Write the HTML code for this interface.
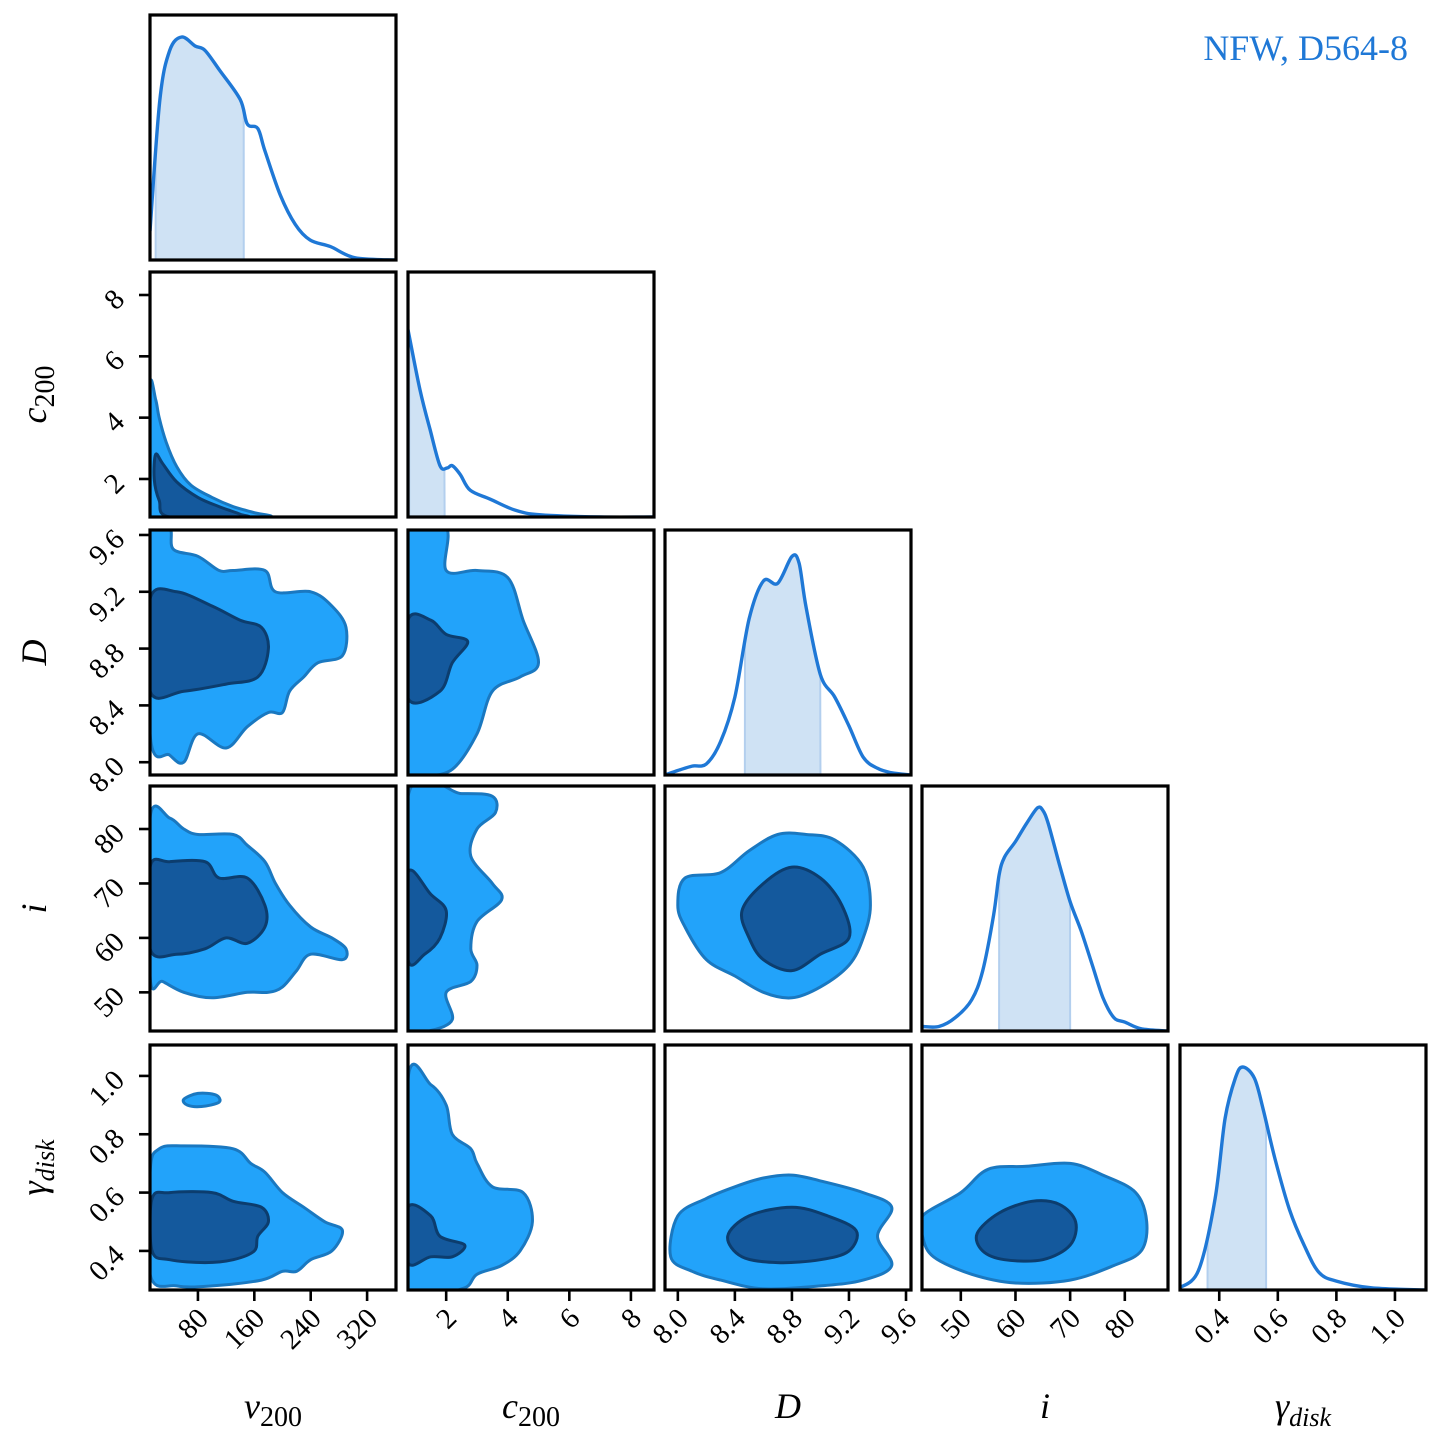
<!DOCTYPE html>
<html><head><meta charset="utf-8"><style>
html,body{margin:0;padding:0;background:#fff}
svg{display:block}
text{font-family:"Liberation Serif",serif;fill:#000}
</style></head><body>
<svg id="chart" width="1440" height="1446" viewBox="0 0 1440 1446" xmlns="http://www.w3.org/2000/svg">
<text x="1408" y="60" text-anchor="end" font-size="36" style="fill:#1f78d6">NFW, D564-8</text>
</svg>
<script>
// ---- data ----
const varNames = ['v200','c200','D','i','gdisk'];
const ranges = [[12,361],[0.76,8.75],[7.91,9.635],[42.9,87.9],[0.266,1.106]];
const tickVals = [[80,160,240,320],[2,4,6,8],[8.0,8.4,8.8,9.2,9.6],[50,60,70,80],[0.4,0.6,0.8,1.0]];
const tickLabels = [['80','160','240','320'],['2','4','6','8'],['8.0','8.4','8.8','9.2','9.6'],['50','60','70','80'],['0.4','0.6','0.8','1.0']];
// 1D KDE: grid values and relative densities
const kdeX0 = [12,26,40,57,76,90,111,140,150,165,175,197,218,239,268,303,361];
const kdeY0 = [0.13,0.72,0.94,1.0,0.96,0.94,0.85,0.72,0.61,0.59,0.49,0.29,0.16,0.09,0.06,0.01,0];
const kdeX1 = [0.76,1.15,1.48,1.8,2.03,2.2,2.46,2.78,3.43,4.25,5.07,7.0,8.75];
const kdeY1 = [0.84,0.57,0.39,0.23,0.22,0.23,0.19,0.12,0.08,0.03,0.01,0.0,0];
const kdeX2 = [7.91,8.0,8.1,8.2,8.3,8.4,8.5,8.6,8.7,8.8,8.85,8.9,9.0,9.1,9.2,9.3,9.4,9.5,9.635];
const kdeY2 = [0.0,0.02,0.04,0.05,0.15,0.35,0.7,0.87,0.86,0.98,0.95,0.75,0.45,0.35,0.22,0.08,0.03,0.01,0];
const kdeX3 = [42.9,46,49,52,54,56,57,58,60,62,64,65,66,68,70,72,74,76,78,80,83,87.9];
const kdeY3 = [0.02,0.02,0.06,0.14,0.27,0.52,0.7,0.78,0.85,0.93,1.0,0.99,0.93,0.75,0.58,0.45,0.3,0.15,0.06,0.04,0.01,0];
const kdeX4 = [0.266,0.33,0.386,0.42,0.455,0.48,0.52,0.55,0.59,0.64,0.69,0.74,0.8,0.92,1.106];
const kdeY4 = [0.01,0.09,0.41,0.77,0.95,1.0,0.95,0.81,0.59,0.36,0.2,0.08,0.04,0.01,0];
const shadeLo = [20,0.8,8.47,57,0.36];
const shadeHi = [145,1.95,9.0,70,0.56];
// 2D contours [row][col] : outer (light) and inner (dark) polygons in data coords
const outer_1_0 = [[12,5.0],[20,4.6],[25,4.0],[35,3.2],[50,2.4],[70,1.8],[100,1.4],[130,1.1],[160,0.9],[175,0.76],[12,0.76]];
const inner_1_0 = [[20,2.8],[30,2.5],[50,1.9],[80,1.4],[110,1.1],[140,0.85],[145,0.76],[40,0.76],[25,1.3],[18,2.0]];
const outer_2_0 = [[12,9.65],[40,9.65],[45,9.5],[80,9.45],[110,9.35],[130,9.35],[175,9.35],[190,9.2],[240,9.2],[270,9.1],[290,8.95],[285,8.75],[250,8.7],[230,8.6],[210,8.5],[200,8.35],[180,8.35],[150,8.25],[120,8.1],[80,8.2],[60,8.0],[40,8.05],[12,8.2]];
const inner_2_0 = [[12,9.15],[50,9.2],[100,9.1],[140,9.0],[170,8.95],[180,8.8],[165,8.6],[120,8.55],[60,8.5],[12,8.5]];
const outer_2_1 = [[0.76,9.65],[2.0,9.65],[2.0,9.35],[3.0,9.35],[4.0,9.3],[4.5,9.0],[5.0,8.7],[4.4,8.6],[3.5,8.5],[3.0,8.2],[2.2,7.95],[1.2,7.9],[0.76,7.91]];
const inner_2_1 = [[0.76,9.0],[1.5,9.0],[2.0,8.9],[2.7,8.85],[2.2,8.7],[1.8,8.5],[0.76,8.45]];
const outer_3_0 = [[12,82],[40,82],[60,80],[80,79],[130,79],[150,77],[175,74],[190,70],[210,66],[240,62],[270,60],[290,58],[285,56],[240,57],[220,54],[200,51],[180,50],[150,50],[100,49],[60,50],[30,52],[12,53]];
const inner_3_0 = [[12,73],[40,74],[90,74],[110,71],[150,71],[175,66],[175,62],[150,59],[120,60],[90,58],[50,57],[12,58]];
const outer_3_1 = [[0.76,86],[2.5,86.5],[3.5,86],[3.6,83],[3.0,80],[2.8,75],[3.5,70],[3.8,67],[3.0,63],[2.8,58],[3.0,55],[2.8,52],[2.0,50],[2.2,45],[1.5,43],[0.76,43]];
const inner_3_1 = [[0.76,72],[1.5,68],[2.0,65],[1.8,60],[1.3,57],[0.76,56]];
const outer_3_2 = [[8.05,71],[8.3,72],[8.5,76],[8.7,79],[8.9,79],[9.1,78],[9.3,73],[9.35,66],[9.3,60],[9.2,55],[9.0,51],[8.8,49],[8.6,50],[8.4,53],[8.2,56],[8.05,62],[8.0,66]];
const inner_3_2 = [[8.45,65],[8.6,70],[8.8,73],[9.0,71],[9.15,66],[9.2,60],[9.0,57],[8.8,54],[8.6,56],[8.5,60]];
const outer_4_0 = [[12,0.67],[25,0.75],[60,0.76],[130,0.75],[155,0.7],[175,0.67],[200,0.6],[230,0.55],[260,0.5],[285,0.47],[270,0.4],[240,0.37],[220,0.33],[200,0.33],[170,0.3],[100,0.28],[50,0.28],[12,0.32]];
const inner_4_0 = [[15,0.58],[40,0.6],[100,0.6],[130,0.57],[170,0.55],[180,0.5],[165,0.45],[160,0.4],[130,0.37],[90,0.36],[40,0.37],[15,0.4]];
const island_4_0 = [[60,0.92],[80,0.94],[105,0.935],[110,0.91],[85,0.895],[65,0.9]];
const outer_4_1 = [[0.76,0.99],[1.5,0.97],[2.0,0.9],[2.2,0.8],[2.8,0.75],[3.0,0.7],[3.5,0.62],[4.5,0.6],[4.8,0.5],[4.4,0.4],[3.8,0.35],[3.0,0.32],[2.5,0.27],[0.76,0.27]];
const inner_4_1 = [[0.76,0.55],[1.5,0.52],[1.8,0.45],[2.6,0.42],[2.2,0.38],[1.5,0.38],[0.76,0.36]];
const outer_4_2 = [[8.0,0.52],[8.2,0.58],[8.4,0.62],[8.6,0.65],[8.8,0.66],[9.0,0.64],[9.3,0.6],[9.5,0.55],[9.4,0.45],[9.5,0.35],[9.3,0.3],[9.0,0.28],[8.6,0.27],[8.3,0.3],[8.1,0.33],[7.95,0.38]];
const inner_4_2 = [[8.35,0.45],[8.5,0.52],[8.8,0.55],[9.05,0.52],[9.25,0.47],[9.2,0.4],[9.0,0.37],[8.7,0.36],[8.45,0.38]];
const outer_4_3 = [[43,0.52],[50,0.6],[55,0.68],[62,0.69],[70,0.7],[76,0.66],[82,0.6],[84,0.5],[83,0.4],[78,0.35],[70,0.3],[60,0.29],[52,0.32],[45,0.38],[43,0.45]];
const inner_4_3 = [[53,0.46],[57,0.53],[63,0.57],[68,0.56],[71,0.5],[70,0.42],[65,0.37],[58,0.37],[54,0.4]];

const kdeXs=[kdeX0,kdeX1,kdeX2,kdeX3,kdeX4], kdeYs=[kdeY0,kdeY1,kdeY2,kdeY3,kdeY4];
const contours = {
 '1_0':[[outer_1_0],[inner_1_0]], '2_0':[[outer_2_0],[inner_2_0]], '2_1':[[outer_2_1],[inner_2_1]],
 '3_0':[[outer_3_0],[inner_3_0]], '3_1':[[outer_3_1],[inner_3_1]], '3_2':[[outer_3_2],[inner_3_2]],
 '4_0':[[outer_4_0,island_4_0],[inner_4_0]], '4_1':[[outer_4_1],[inner_4_1]], '4_2':[[outer_4_2],[inner_4_2]], '4_3':[[outer_4_3],[inner_4_3]]
};
// ---- layout ----
const colX=[150,408,665,922,1180], rowY=[15,272,530,786,1045], W=246, H=245;
const NS='http://www.w3.org/2000/svg';
const svg=document.getElementById('chart');
function mk(tag,attrs,parent){const e=document.createElementNS(NS,tag);for(const k in attrs)e.setAttribute(k,attrs[k]);(parent||svg).appendChild(e);return e;}
function sx(v,c){const r=ranges[c];return colX[c]+(v-r[0])/(r[1]-r[0])*W;}
function sy(v,r){const q=ranges[r];return rowY[r]+H-(v-q[0])/(q[1]-q[0])*H;}
function kdeY(d,r){return rowY[r]+H-d*0.91*H;}
function smoothClosed(pts){
 let n=pts.length,d='M'+pts[0][0].toFixed(1)+','+pts[0][1].toFixed(1);
 for(let i=0;i<n;i++){const p0=pts[(i-1+n)%n],p1=pts[i],p2=pts[(i+1)%n],p3=pts[(i+2)%n];
  const c1=[p1[0]+(p2[0]-p0[0])/6,p1[1]+(p2[1]-p0[1])/6],c2=[p2[0]-(p3[0]-p1[0])/6,p2[1]-(p3[1]-p1[1])/6];
  d+='C'+c1[0].toFixed(1)+','+c1[1].toFixed(1)+' '+c2[0].toFixed(1)+','+c2[1].toFixed(1)+' '+p2[0].toFixed(1)+','+p2[1].toFixed(1);}
 return d+'Z';}
function smoothOpen(pts){
 let d='M'+pts[0][0].toFixed(1)+','+pts[0][1].toFixed(1);const n=pts.length;
 for(let i=0;i<n-1;i++){const p0=pts[Math.max(i-1,0)],p1=pts[i],p2=pts[i+1],p3=pts[Math.min(i+2,n-1)];
  const c1=[p1[0]+(p2[0]-p0[0])/6,p1[1]+(p2[1]-p0[1])/6],c2=[p2[0]-(p3[0]-p1[0])/6,p2[1]-(p3[1]-p1[1])/6];
  d+='C'+c1[0].toFixed(1)+','+c1[1].toFixed(1)+' '+c2[0].toFixed(1)+','+c2[1].toFixed(1)+' '+p2[0].toFixed(1)+','+p2[1].toFixed(1);}
 return d;}
const defs=mk('defs',{});
for(let r=0;r<5;r++)for(let c=0;c<=r;c++){
 const cp=mk('clipPath',{id:'cp'+r+'_'+c},defs);
 mk('rect',{x:colX[c],y:rowY[r],width:W,height:H},cp);
 const g=mk('g',{'clip-path':'url(#cp'+r+'_'+c+')'});
 
 
 if(r===c){
  const xs=kdeXs[c],ys=kdeYs[c];
  const pts=xs.map((v,k)=>[sx(v,c),kdeY(ys[k],r)]);
  const full=smoothOpen(pts);
  const tmp=mk('path',{d:full,fill:'none'});
  const len=tmp.getTotalLength();const lo=sx(shadeLo[c],c),hi=sx(shadeHi[c],c);
  let sp=[];for(let t=0;t<=len;t+=1){const p=tmp.getPointAtLength(t);if(p.x>=lo&&p.x<=hi)sp.push([p.x,p.y]);}
  tmp.remove();
  const base=rowY[r]+H;
  if(sp.length){let d='M'+lo+','+base+'L'+sp.map(p=>p[0].toFixed(1)+','+p[1].toFixed(1)).join('L')+'L'+hi+','+base+'Z';
   const s=mk('path',{d:d,fill:'#cfe2f4',stroke:'#b3cfee','stroke-width':2},g);
   
   }
  const l=mk('path',{d:full,fill:'none',stroke:'#1f78d6','stroke-width':3.4,'stroke-linejoin':'round'},g);
  
  
 } else {
  const set=contours[r+'_'+c];
  set[0].forEach((poly,k)=>{const p=mk('path',{d:smoothClosed(poly.map(q=>[sx(q[0],c),sy(q[1],r)])),fill:'#22a3fa',stroke:'#1a78c0','stroke-width':3},g);
   
   });
  set[1].forEach(poly=>{const p=mk('path',{d:smoothClosed(poly.map(q=>[sx(q[0],c),sy(q[1],r)])),fill:'#14599d',stroke:'#0c3d6e','stroke-width':3},g);
   
   });
 }
 const fr=mk('rect',{x:colX[c],y:rowY[r],width:W,height:H,fill:'none',stroke:'#000','stroke-width':3.2});
 
 
}
// x ticks (bottom row)
for(let c=0;c<5;c++){
 const y0=rowY[4]+H;
 tickVals[c].forEach((v,k)=>{const x=sx(v,c);
  const t=mk('line',{x1:x,y1:y0,x2:x,y2:y0+11,stroke:'#000','stroke-width':2.6});
  
  
  const ax=x+12, ay=y0+30;
  const tx=mk('text',{x:ax,y:ay,'text-anchor':'end','font-size':29,transform:'rotate(-45 '+ax+' '+ay+')'});
  tx.textContent=tickLabels[c][k];
  
  });
}
// y ticks (first column)
for(let r=1;r<5;r++){
 const x0=colX[0];
 tickVals[r].forEach((v,k)=>{const y=sy(v,r);
  const t=mk('line',{x1:x0,y1:y,x2:x0-11,y2:y,stroke:'#000','stroke-width':2.6});
  
  
  const ax=x0-24, ay=y+6;
  const tx=mk('text',{x:ax,y:ay,'text-anchor':'end','font-size':29,transform:'rotate(-45 '+ax+' '+ay+')'});
  tx.textContent=tickLabels[r][k];
  
  });
}
// axis titles
const xTitles=[['v','200'],['c','200'],['D',''],['i',''],['γ','disk']];
xTitles.forEach((tt,c)=>{const cx=colX[c]+W/2;
 const t=mk('text',{x:cx,y:1418,'text-anchor':'middle','font-size':36});
 const a=mk('tspan',{'font-style':'italic'},t);a.textContent=tt[0];
 if(tt[1]){const b=mk('tspan',{'font-size':tt[1]==='disk'?26:28,dy:8,'font-style':tt[1]==='disk'?'italic':'normal'},t);b.textContent=tt[1];}
 
 });
const yTitles=[null,['c','200'],['D',''],['i',''],['γ','disk']];
for(let r=1;r<5;r++){const tt=yTitles[r];const cy=rowY[r]+H/2;const cx=46;
 const t=mk('text',{x:cx,y:cy,'text-anchor':'middle','font-size':36,transform:'rotate(-90 '+cx+' '+cy+')'});
 const a=mk('tspan',{'font-style':'italic'},t);a.textContent=tt[0];
 if(tt[1]){const b=mk('tspan',{'font-size':tt[1]==='disk'?26:28,dy:8,'font-style':tt[1]==='disk'?'italic':'normal'},t);b.textContent=tt[1];}
 
 }
</script>
</body></html>
